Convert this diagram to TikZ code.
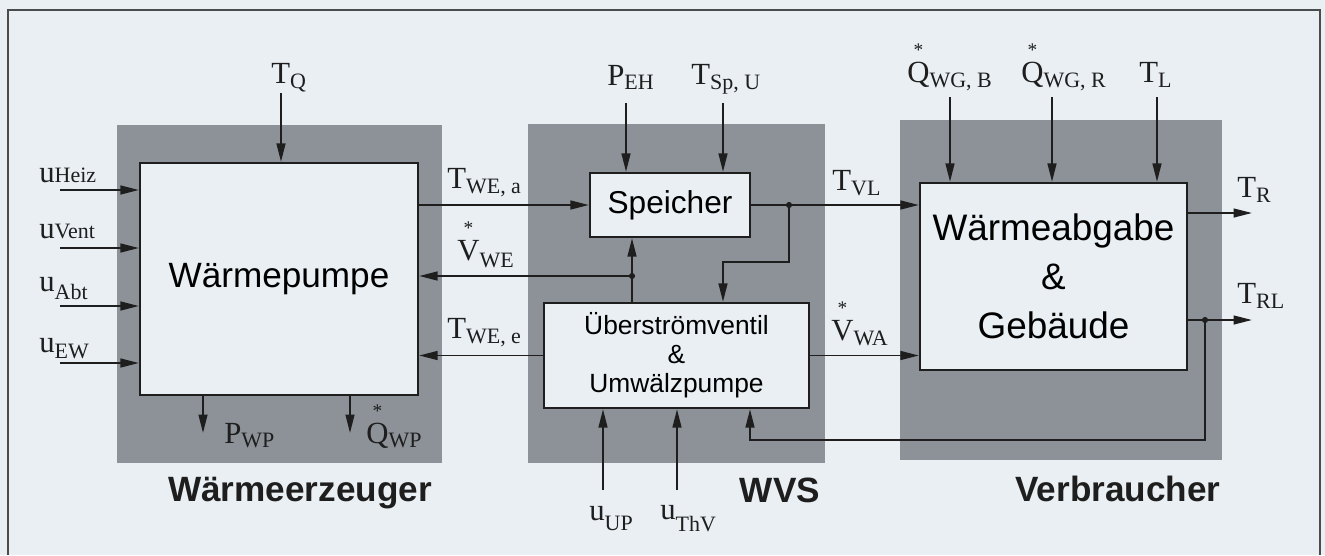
\documentclass[tikz,border=0pt]{standalone}
\usepackage{fontspec}
\setmainfont{Liberation Serif}
\setsansfont{Liberation Sans}
\usetikzlibrary{arrows.meta}

\definecolor{paper}{RGB}{233,239,243}
\definecolor{hatch}{RGB}{140,146,151}
\definecolor{ink}{RGB}{30,30,30}

% signal label: letter with lowered index, starred letter for flows
\newcommand{\sig}[3][3pt]{{\fontsize{17.5}{17.5}\selectfont #2}{\fontsize{12.5}{12.5}\selectfont\raisebox{-#1}{#3}}}
\newcommand{\dsig}[3][3pt]{{\fontsize{17.5}{17.5}\selectfont\ooalign{#2\cr\hidewidth\raisebox{14.5pt}{\fontsize{11}{11}\selectfont *}\hidewidth\cr}}{\fontsize{12.5}{12.5}\selectfont\raisebox{-#1}{#3}}}

\begin{document}
\begin{tikzpicture}[x=0.02cm, y=-0.02cm,
  block/.style={draw=ink, line width=1.3pt, fill=paper, align=center, inner sep=0pt},
  sarr/.style={draw=ink, line width=1.1pt, -{Triangle[length=10.5pt,width=5pt]}},
  lab/.style={inner sep=0pt, text=ink, anchor=base west},
  title/.style={font=\sffamily\bfseries\fontsize{20}{20}\selectfont, text=ink, anchor=base},
  dot/.style={circle, fill=ink, inner sep=0pt, minimum size=3.5pt}]

\useasboundingbox (0,0) rectangle (1325,555);

% paper and frame
\fill[paper] (0,0) rectangle (1325,555);
\draw[ink!80, line width=0.8pt] (8,555) -- (8,10) -- (1320,10) -- (1320,555);

% hatched zones
\fill[hatch] (117,125) rectangle (442,463);
\fill[hatch] (528,124) rectangle (825,463);
\fill[hatch] (900,120) rectangle (1222,460);

% blocks
\node[block, minimum width=5.56cm, minimum height=4.64cm, font=\sffamily\fontsize{20}{20}\selectfont] (wp) at (279,279) {Wärmepumpe};
\node[block, minimum width=3.2cm, minimum height=1.28cm, font=\sffamily\fontsize{18}{18}\selectfont] (sp) at (670,205) {Speicher};
\node[block, minimum width=5.3cm, minimum height=2.1cm, font=\sffamily\fontsize{15}{16.5}\selectfont] (uv) at (676.5,355.5) {Überströmventil\\\&\\Umwälzpumpe};
\node[block, minimum width=5.34cm, minimum height=3.74cm, font=\sffamily\fontsize{21}{28}\selectfont] (wag) at (1053.5,276.5) {Wärmeabgabe\\\&\\Gebäude};

% Wärmeerzeuger: control inputs
\foreach \y/\b/\d/\s [count=\i] in {190/182/0pt/Heiz, 248/238/0pt/Vent, 306/291/5pt/Abt, 363/352/3.5pt/EW} {
  \coordinate (in\i) at (60,\y);
  \draw[sarr] (in\i) -- (in\i -| wp.west);
  \node[lab] (lin\i) at (39,\b) {\sig[\d]{u}{\s}};
}
\coordinate (tqin) at (281,93);
\draw[sarr] (tqin) -- (tqin |- wp.north);
\node[lab] (ltq) at (271,83) {\sig{T}{Q}};

% Wärmeerzeuger: outputs
\coordinate (pwpout) at (203,433);
\draw[sarr] (pwpout |- wp.south) -- (pwpout);
\node[lab] (lpwp) at (224,443) {\sig[2.5pt]{P}{WP}};
\coordinate (qwpout) at (350,433);
\draw[sarr] (qwpout |- wp.south) -- (qwpout);
\node[lab] (lqwp) at (366,443) {\dsig[2.5pt]{Q}{WP}};

% WVS: flows between the blocks
\draw[sarr] (wp.east |- sp.west) -- (sp.west);
\node[lab] (ltwea) at (447,188) {\sig{T}{WE, a}};
\coordinate (jv) at (632,276);
\draw[sarr] (jv |- uv.north) -- (jv |- sp.south);
\draw[sarr] (jv) -- (jv -| wp.east);
\node[dot] at (jv) {};
\node[lab] (lvwe) at (457,260) {\dsig[4pt]{V}{WE}};
\draw[sarr] (uv.west) -- (uv.west -| wp.east);
\node[lab] (ltwee) at (447,338) {\sig{T}{WE, e}};

\draw[sarr] (sp.east) -- (sp.east -| wag.west);
\coordinate (jt) at (789,205);
\coordinate (kink) at (723,262);
\draw[sarr] (jt) |- (kink) -- (kink |- uv.north);
\node[dot] at (jt) {};
\node[lab] (ltvl) at (832,190) {\sig{T}{VL}};
\draw[sarr] (uv.east) -- (uv.east -| wag.west);
\node[lab] (lvwa) at (831,340) {\dsig{V}{WA}};

% WVS: inputs
\coordinate (pehin) at (626,103);
\draw[sarr] (pehin) -- (pehin |- sp.north);
\node[lab] (lpeh) at (607,85) {\sig[2.5pt]{P}{EH}};
\coordinate (tspin) at (723,103);
\draw[sarr] (tspin) -- (tspin |- sp.north);
\node[lab] (ltsp) at (691,84) {\sig{T}{Sp, U}};
\coordinate (uupin) at (603,490);
\draw[sarr] (uupin) -- (uupin |- uv.south);
\node[lab] (luup) at (589,520) {\sig[6pt]{u}{UP}};
\coordinate (uthvin) at (677,490);
\draw[sarr] (uthvin) -- (uthvin |- uv.south);
\node[lab] (luthv) at (660,519) {\sig[7pt]{u}{ThV}};

% Verbraucher: inputs
\coordinate (qbin) at (950,97);
\draw[sarr] (qbin) -- (qbin |- wag.north);
\node[lab] (lqb) at (907,82) {\dsig{Q}{WG, B}};
\coordinate (qrin) at (1052,97);
\draw[sarr] (qrin) -- (qrin |- wag.north);
\node[lab] (lqr) at (1021,82) {\dsig{Q}{WG, R}};
\coordinate (tlin) at (1157,97);
\draw[sarr] (tlin) -- (tlin |- wag.north);
\node[lab] (ltl) at (1139,82) {\sig{T}{L}};

% Verbraucher: outputs and return line
\coordinate (trout) at (1252,213);
\draw[sarr] (trout -| wag.east) -- (trout);
\node[lab] (ltr) at (1237,197) {\sig{T}{R}};
\coordinate (trlout) at (1252,320);
\draw[sarr] (trlout -| wag.east) -- (trlout);
\node[lab] (ltrl) at (1237,303) {\sig{T}{RL}};
\coordinate (jr) at (1205,320);
\coordinate (ret) at (750,440);
\draw[sarr] (jr) |- (ret) -- (ret |- uv.south);
\node[dot] at (jr) {};

% zone titles
\node[title] (t1) at (300,501) {Wärmeerzeuger};
\node[title] (t2) at (780,502) {WVS};
\node[title] (t3) at (1118,501) {Verbraucher};

\end{tikzpicture}
\end{document}
